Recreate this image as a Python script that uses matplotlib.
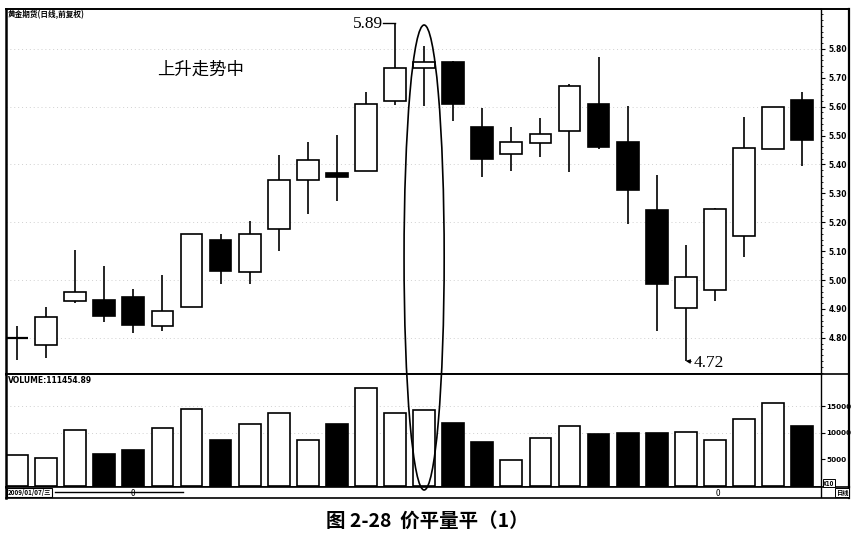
import numpy as np
import matplotlib
matplotlib.use('Agg')
import matplotlib.pyplot as plt
from matplotlib.patches import Rectangle, Ellipse
from matplotlib.lines import Line2D
import matplotlib.transforms as mtransforms
from matplotlib.ticker import MultipleLocator

plt.rcParams['font.family'] = ['Noto Sans CJK SC', 'DejaVu Sans']

# ---- data ----
opens = [4.800, 4.775, 4.927, 4.930, 4.940, 4.840, 4.907, 5.140, 5.027, 5.176,
         5.347, 5.370, 5.379, 5.618, 5.735, 5.753, 5.528, 5.437, 5.476, 5.516,
         5.609, 5.477, 5.243, 4.903, 4.966, 5.151, 5.454, 5.624]
closes = [4.800, 4.873, 4.958, 4.877, 4.845, 4.893, 5.160, 5.031, 5.159, 5.347,
          5.416, 5.355, 5.609, 5.735, 5.755, 5.610, 5.418, 5.477, 5.506, 5.672,
          5.459, 5.312, 4.986, 5.010, 5.245, 5.456, 5.600, 5.483]
highs = [4.842, 4.908, 5.105, 5.049, 4.968, 5.018, 5.160, 5.160, 5.203, 5.433,
         5.477, 5.502, 5.652, 5.890, 5.810, 5.758, 5.597, 5.528, 5.560, 5.678,
         5.771, 5.604, 5.364, 5.122, 5.251, 5.566, 5.600, 5.650]
lows = [4.724, 4.730, 4.920, 4.854, 4.816, 4.824, 4.907, 4.987, 4.987, 5.101,
        5.229, 5.275, 5.379, 5.606, 5.603, 5.551, 5.355, 5.379, 5.425, 5.373,
        5.455, 5.193, 4.825, 4.720, 4.926, 5.079, 5.454, 5.396]
volumes = [5850, 5160, 10500, 5980, 6730, 10940, 14530, 8550, 11630, 13750,
           8620, 11600, 18400, 13770, 14250, 11720, 8250, 4780, 8930, 11220,
           9680, 9980, 9860, 10050, 8560, 12580, 15550, 11220]

price_ticks = [4.80, 4.90, 5.00, 5.10, 5.20, 5.30, 5.40, 5.50, 5.60, 5.70, 5.80]
price_grid = [4.80, 5.00, 5.20, 5.40, 5.60, 5.80]
vol_ticks = [5000, 10000, 15000]
vol_labels = ['5000', '10000', '15000']
vol_grid = [10000, 15000]

title_text = '黄金期货(日线,前复权)'
volume_text = 'VOLUME:111454.89'
trend_text = '上升走势中'
date_text = '2009/01/07/三'
caption = '图 2-28  价平量平（1）'
flat_idx = 14

# ---- layout ----
W, H = 864, 557
fig = plt.figure(figsize=(8.64, 5.57), dpi=100)
fig.patch.set_facecolor('white')


def fx(px):
    return px / W


def fy(py):
    return 1 - py / H


L, R, T, MID, VB, SB, RR = 6, 821, 9, 374, 487, 498, 849
axp = fig.add_axes([fx(L), fy(MID), fx(R) - fx(L), fy(T) - fy(MID)])
axv = fig.add_axes([fx(L), fy(VB), fx(R) - fx(L), fy(MID) - fy(VB)])
axs = fig.add_axes([fx(L), fy(SB), fx(RR) - fx(L), fy(VB) - fy(SB)])

n = len(opens)
x = np.arange(n)
bw = 0.75
lw = 1.2

for i in range(n):
    o, c, h, l = opens[i], closes[i], highs[i], lows[i]
    axp.vlines(x[i], l, h, color='black', lw=lw, zorder=1)
    if abs(c - o) < 1e-6:
        axp.hlines(o, x[i] - bw / 2, x[i] + bw / 2, color='black', lw=1.6, zorder=2)
    else:
        fc = 'black' if c < o else 'white'
        axp.add_patch(Rectangle((x[i] - bw / 2, min(o, c)), bw, abs(c - o),
                                facecolor=fc, edgecolor='black', lw=lw, zorder=2))

for g in price_grid:
    axp.axhline(g, color='#d0d0d0', lw=0.7, ls=(0, (1, 3)), zorder=0)

axp.set_xlim(-0.38, 27.65)
axp.set_ylim(4.675, 5.938)
axp.set_xticks([])
axp.yaxis.tick_right()
axp.set_yticks(price_ticks)
axp.set_yticklabels(['%.2f' % t for t in price_ticks], fontsize=5.5, fontweight='bold',
                    family=['DejaVu Sans'])
axp.yaxis.set_minor_locator(MultipleLocator(0.02))
axp.tick_params(axis='y', which='major', direction='out', length=3, width=0.8, pad=2.5)
axp.tick_params(axis='y', which='minor', direction='out', length=1.2, width=0.6)

# volume bars
vcolors = ['black' if closes[i] < opens[i] else 'white' for i in range(n)]
axv.bar(x, volumes, width=bw, color=vcolors, edgecolor='black', lw=lw, zorder=2)
for g in vol_grid:
    axv.axhline(g, color='#d0d0d0', lw=0.7, ls=(0, (1, 3)), zorder=0)
axv.set_xlim(-0.38, 27.65)
axv.set_ylim(-280, 21040)
axv.set_xticks([])
axv.yaxis.tick_right()
axv.set_yticks(vol_ticks)
axv.set_yticklabels(vol_labels, fontsize=5.2, fontweight='bold', family=['DejaVu Sans'])
axv.tick_params(axis='y', direction='out', length=3, width=0.8, pad=1)

for ax in (axp, axv):
    ax.spines['left'].set_linewidth(1.8)
    ax.spines['top'].set_linewidth(1.4)
    ax.spines['bottom'].set_linewidth(1.2)
    ax.spines['right'].set_linewidth(1.0)

# strip
axs.set_xlim(0, 1)
axs.set_ylim(0, 1)
axs.set_xticks([])
axs.set_yticks([])
for s in axs.spines.values():
    s.set_linewidth(1.2)
axs.spines['left'].set_linewidth(1.8)
axs.spines['right'].set_linewidth(1.6)
axs.axvline((R - L) / (RR - L), color='black', lw=1.0)
axs.text(0.002, 0.5, date_text, fontsize=4.5, fontweight='bold', va='center', ha='left',
         bbox=dict(boxstyle='square,pad=0.15', fc='white', ec='black', lw=0.8))
axs.plot([0.058, 0.21], [0.55, 0.55], color='black', lw=1.0)
axs.text((133 - L) / (RR - L), 0.45, '0', fontsize=6, va='center', ha='center')
axs.text((718 - L) / (RR - L), 0.45, '0', fontsize=6, va='center', ha='center')
axs.text((842 - L) / (RR - L), 0.5, '日线', fontsize=4.5, fontweight='bold', va='center',
         ha='center', bbox=dict(boxstyle='square,pad=0.1', fc='white', ec='black', lw=0.7))

# frame lines on the right label area
fig.add_artist(Line2D([fx(R), fx(RR)], [fy(T), fy(T)], color='black', lw=1.4))
fig.add_artist(Line2D([fx(R), fx(RR)], [fy(MID), fy(MID)], color='black', lw=1.2))
fig.add_artist(Line2D([fx(RR), fx(RR)], [fy(T), fy(VB)], color='black', lw=1.6))
fig.text(fx(829), fy(483), 'X10', fontsize=4.5, fontweight='bold', va='center', ha='center',
         bbox=dict(boxstyle='square,pad=0.1', fc='white', ec='black', lw=0.7))

# texts
axp.text(0.0015, 0.997, title_text, transform=axp.transAxes, fontsize=5.5,
         fontweight='bold', va='top', ha='left')
axp.text(0.185, 0.833, trend_text, transform=axp.transAxes, fontsize=12.5,
         va='center', ha='left')
axv.text(0.002, 0.985, volume_text, transform=axv.transAxes, fontsize=5.5,
         fontweight='bold', va='top', ha='left', family=['DejaVu Sans'])

hi_i = int(np.argmax(highs))
lo_i = int(np.argmin(lows))
axp.plot([hi_i - 0.4, hi_i], [highs[hi_i], highs[hi_i]], color='black', lw=1.0)
axp.text(hi_i - 0.42, highs[hi_i] - 0.005, '%.2f' % highs[hi_i], fontsize=12.5,
         family=['Liberation Serif'], va='center', ha='right')
axp.annotate('%.2f' % lows[lo_i], xy=(lo_i, lows[lo_i]), xytext=(lo_i + 0.28, lows[lo_i] - 0.008),
             fontsize=12.5, family=['Liberation Serif'], va='center', ha='left',
             arrowprops=dict(arrowstyle='-|>', color='black', lw=0.8,
                             mutation_scale=6, shrinkA=0, shrinkB=0))

# ellipse around the flat candle, spanning both panels
trans = mtransforms.blended_transform_factory(axp.transData, fig.transFigure)
ell = Ellipse((flat_idx, (fy(25) + fy(490)) / 2), width=1.38, height=fy(25) - fy(490),
              transform=trans, fill=False, edgecolor='black', lw=1.2, clip_on=False, zorder=5)
fig.add_artist(ell)

fig.text(fx(427), fy(521), caption, fontsize=14, fontweight='bold', va='center', ha='center')

fig.savefig('out.png', dpi=100)
